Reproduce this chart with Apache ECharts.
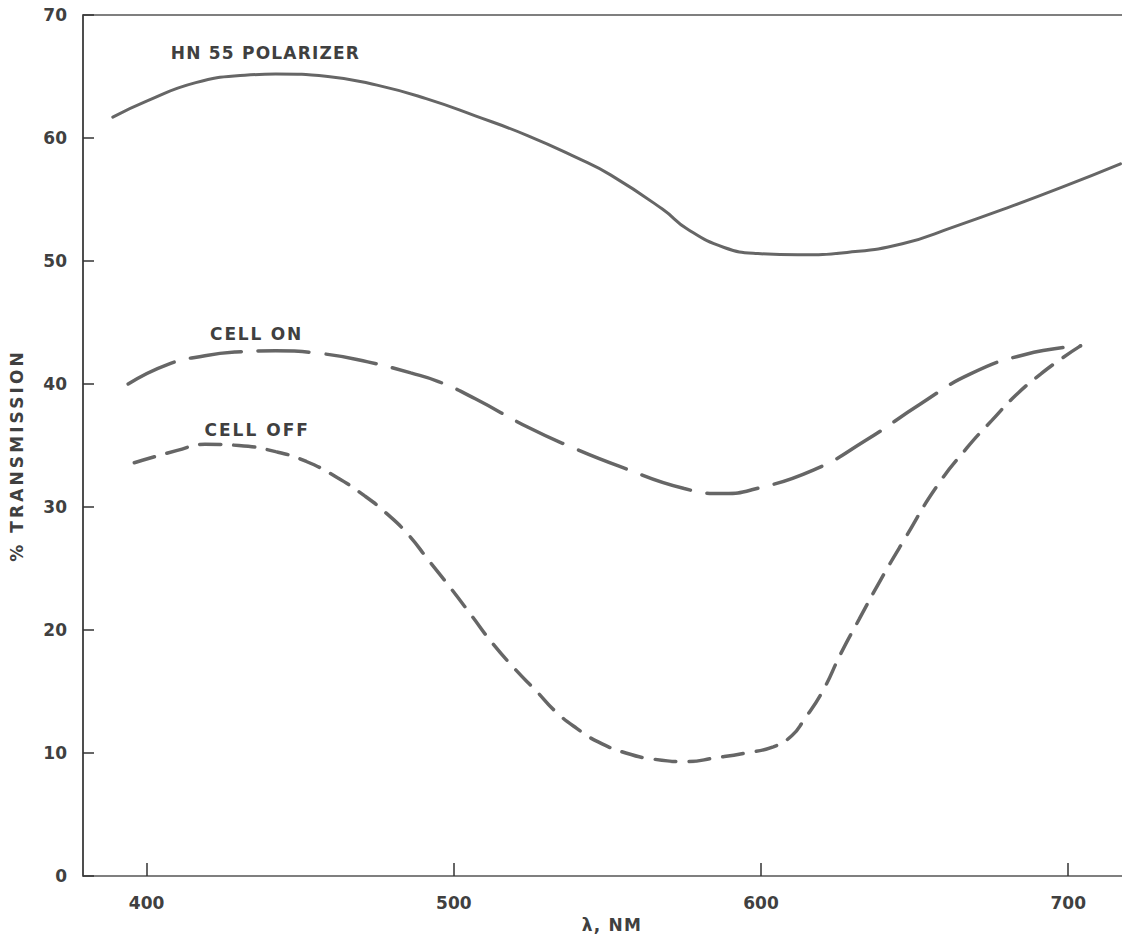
<!DOCTYPE html>
<html>
<head>
<meta charset="utf-8">
<script src="https://cdn.jsdelivr.net/npm/echarts@6/dist/echarts.min.js"></script>
<style>
html,body{margin:0;padding:0;background:#fff;}
#chart{width:1122px;height:938px;}
</style>
</head>
<body>
<div id="chart"></div>
<script>
// ---- data ----
const xTicks = [400, 500, 600, 700];
const yTicks = [0, 10, 20, 30, 40, 50, 60, 70];

const polarizerX = [389, 400, 416, 432, 442, 459, 475, 491, 507, 524, 540, 551, 568, 576, 588, 599, 612, 628, 646, 663, 681, 698, 717];
const polarizerY = [61.7, 63.0, 64.5, 65.1, 65.2, 65.0, 64.3, 63.2, 61.8, 60.2, 58.4, 57.0, 54.2, 52.6, 51.1, 50.6, 50.5, 50.7, 51.4, 52.8, 54.4, 56.0, 57.9];

const cellOnX = [394, 407, 419, 429, 442, 456, 472, 486, 495, 507, 524, 538, 554, 575, 588, 597, 617, 634, 652, 668, 686, 704];
const cellOnY = [40.0, 41.6, 42.3, 42.6, 42.7, 42.5, 41.8, 40.9, 40.2, 38.8, 36.5, 34.9, 33.3, 31.5, 31.1, 31.4, 33.0, 35.4, 38.4, 40.8, 42.4, 43.1];

const cellOffX = [396, 410, 419, 430, 442, 452, 462, 471, 478, 485, 492, 499, 506, 512, 520, 527, 533, 540, 547, 556, 565, 576, 585, 595, 604, 610, 614, 620, 626, 632, 639, 647, 657, 667, 675, 683, 691, 698, 704];
const cellOffY = [33.6, 34.6, 35.1, 35.0, 34.5, 33.7, 32.4, 30.9, 29.5, 27.8, 25.6, 23.4, 21.1, 19.1, 16.8, 15.0, 13.4, 12.0, 10.9, 10.0, 9.5, 9.3, 9.6, 10.0, 10.5, 11.4, 12.7, 15.0, 18.1, 20.9, 24.1, 27.5, 31.6, 34.8, 37.0, 39.1, 40.8, 42.1, 43.1];

const seriesNames = ['HN 55 POLARIZER', 'CELL ON', 'CELL OFF'];
const xAxisTitle = 'λ, NM';
const yAxisTitle = '% TRANSMISSION';

// ---- chart ----
function pairs(xs, ys) { return xs.map((x, i) => [x, ys[i]]); }

const FONT = 'DejaVu Sans';
const INK = '#404040';
const LINE = '#666666';
const labelAnchors = [[438.7, 66.9], [435.8, 44.1], [436, 36.3]];

function curveLabel(i) {
  return {
    silent: true,
    symbol: 'circle',
    symbolSize: 0,
    label: {
      show: true, position: 'inside', formatter: p => p.name,
      fontFamily: FONT, fontWeight: 'bold', fontSize: 17, color: INK
    },
    data: [{ name: seriesNames[i], coord: labelAnchors[i] }]
  };
}

const chart = echarts.init(document.getElementById('chart'), null, { renderer: 'svg' });
chart.setOption({
  animation: false,
  backgroundColor: '#ffffff',
  grid: { left: 77, right: 0, top: 15, bottom: 56 },
  xAxis: [{
    type: 'value', min: 379.3, max: 717.5, position: 'bottom',
    name: xAxisTitle, nameLocation: 'middle', nameGap: 40,
    nameTextStyle: { fontFamily: FONT, fontWeight: 'bold', fontSize: 17, color: INK, padding: [0, 0, 0, 19] },
    axisLine: { show: true, onZero: false, lineStyle: { color: '#555', width: 1.5 } },
    axisTick: { show: true, inside: true, length: 13, customValues: xTicks, lineStyle: { color: '#333', width: 1.5 } },
    axisLabel: { show: true, customValues: xTicks, margin: 18, fontFamily: FONT, fontWeight: 'bold', fontSize: 17, color: INK },
    splitLine: { show: false }
  }, {
    type: 'value', min: 379.3, max: 717.5, position: 'top',
    axisLine: { show: true, onZero: false, lineStyle: { color: '#555', width: 1.5 } },
    axisTick: { show: false }, axisLabel: { show: false }, splitLine: { show: false }
  }],
  yAxis: {
    type: 'value', min: 0, max: 70, interval: 10,
    name: yAxisTitle, nameLocation: 'middle', nameGap: 58, nameRotate: 90,
    nameTextStyle: { fontFamily: FONT, fontWeight: 'bold', fontSize: 17, color: INK, padding: [0, 20, 0, 0] },
    axisLine: { show: true, onZero: false, lineStyle: { color: '#222', width: 1.6 } },
    axisTick: { show: true, inside: true, length: 11, lineStyle: { color: '#333', width: 1.5 } },
    axisLabel: { margin: 16, fontFamily: FONT, fontWeight: 'bold', fontSize: 17, color: INK,
                 formatter: v => (yTicks.indexOf(v) >= 0 ? String(v) : '') },
    splitLine: { show: false }
  },
  series: [{
    name: seriesNames[0], type: 'line', data: pairs(polarizerX, polarizerY),
    symbol: 'none', smooth: 0.5,
    lineStyle: { color: LINE, width: 3, cap: 'round' },
    markPoint: curveLabel(0)
  }, {
    name: seriesNames[1], type: 'line', data: pairs(cellOnX, cellOnY),
    symbol: 'none', smooth: 0.5,
    lineStyle: { color: LINE, width: 3.5, type: [51, 17], cap: 'round' },
    markPoint: curveLabel(1)
  }, {
    name: seriesNames[2], type: 'line', data: pairs(cellOffX, cellOffY),
    symbol: 'none', smooth: 0.5,
    lineStyle: { color: LINE, width: 3.5, type: [21, 13], cap: 'round' },
    markPoint: curveLabel(2)
  }]
});

// widen letter spacing of the word labels, as in the original lettering
const spacing = { '% TRANSMISSION': 3.1, 'HN 55 POLARIZER': 1.2, 'CELL ON': 1.8, 'CELL OFF': 2.0, 'λ, NM': 1.2 };
document.querySelectorAll('#chart svg text').forEach(t => {
  const s = spacing[t.textContent];
  if (s) t.setAttribute('letter-spacing', s + 'px');
});
</script>
</body>
</html>
